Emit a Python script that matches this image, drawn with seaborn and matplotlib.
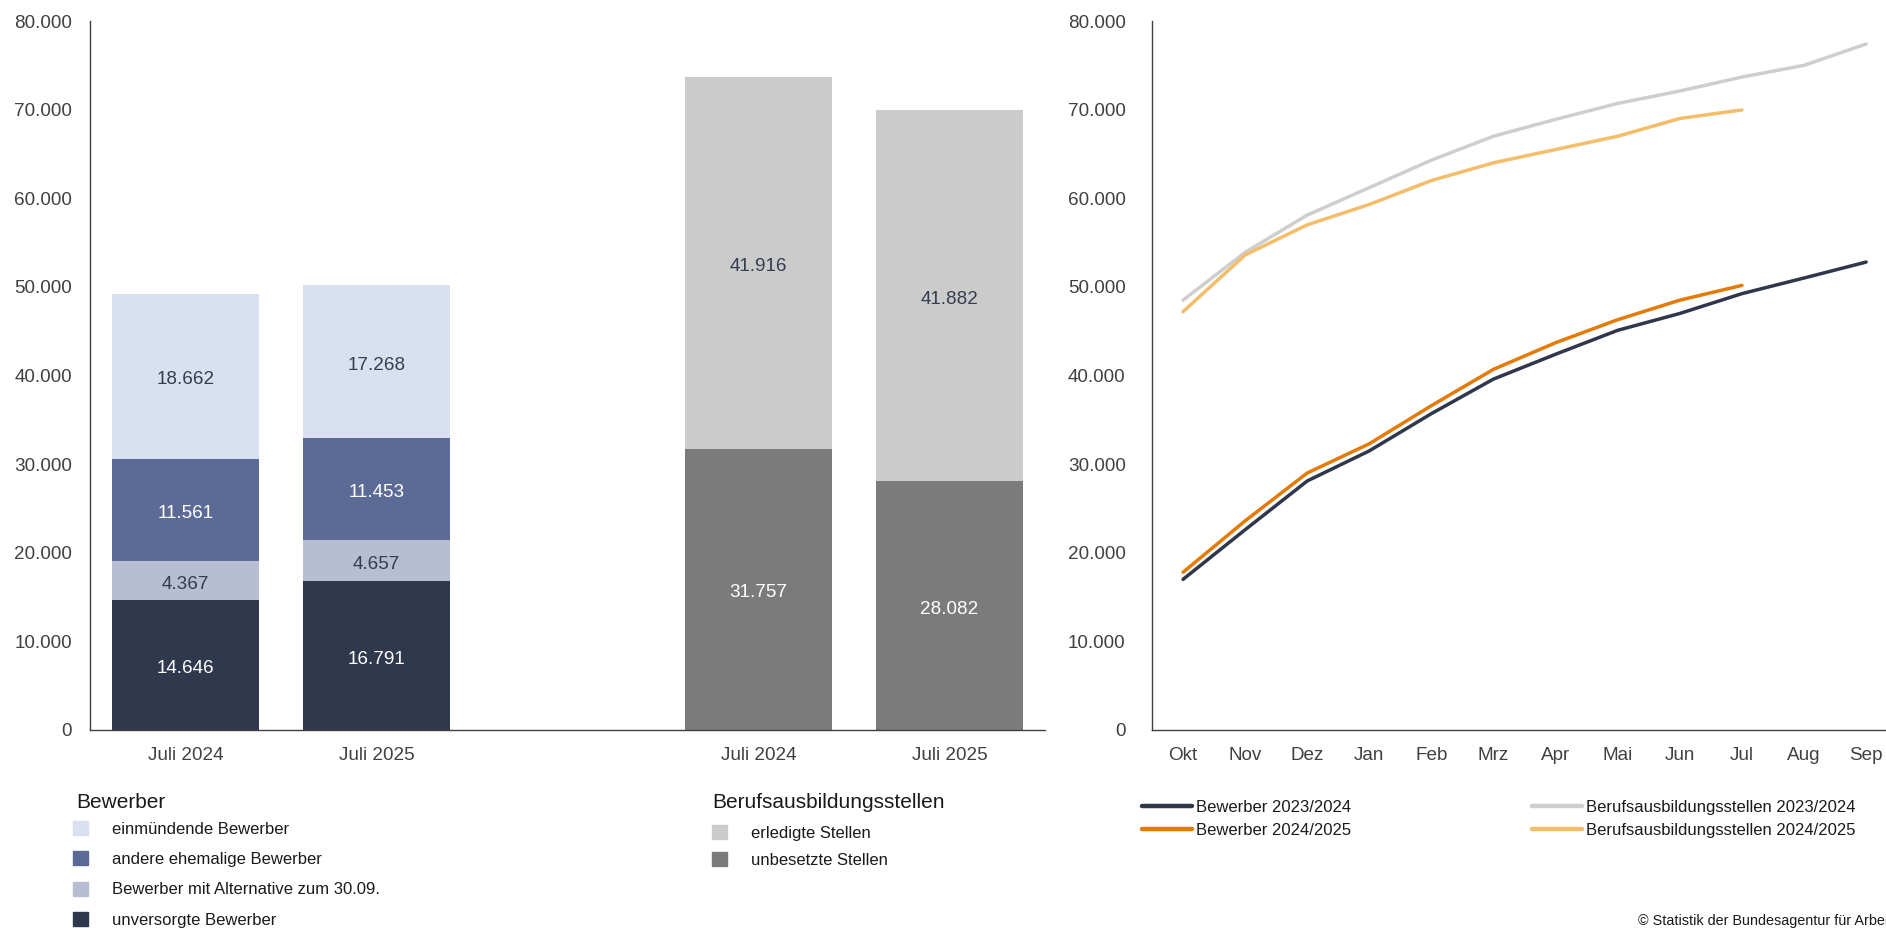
import numpy as np
import pandas as pd
import matplotlib
matplotlib.use("Agg")
import matplotlib.pyplot as plt
import seaborn as sns
from matplotlib.patches import Patch
from matplotlib.lines import Line2D
from matplotlib.ticker import FuncFormatter, MultipleLocator

# ---------------- data ----------------
bar_labels = ["Juli 2024", "Juli 2025"]
unversorgt = [14646, 16791]
alternative = [4367, 4657]
andere = [11561, 11453]
einmuendende = [18662, 17268]
unbesetzt = [31757, 28082]
erledigt = [41916, 41882]

months = ["Okt", "Nov", "Dez", "Jan", "Feb", "Mrz", "Apr", "Mai", "Jun", "Jul", "Aug", "Sep"]
bew_2324 = [17000, 22600, 28100, 31500, 35700, 39600, 42400, 45100, 47000, 49236, 51000, 52800]
bew_2425 = [17800, 23600, 29000, 32300, 36600, 40700, 43700, 46300, 48500, 50169]
stellen_2324 = [48500, 53900, 58100, 61200, 64300, 67000, 68900, 70700, 72100, 73673, 75000, 77400]
stellen_2425 = [47200, 53600, 57000, 59300, 62000, 64000, 65500, 67000, 69000, 69964]

# ---------------- style ----------------
sns.set_theme(style="white")
plt.rcParams["font.family"] = ["Liberation Sans", "DejaVu Sans"]
plt.rcParams["lines.solid_capstyle"] = "round"

C_EIN = "#d9e0f0"
C_AND = "#5c6b95"
C_ALT = "#b8bed1"
C_UNV = "#30384d"
C_ERL = "#cbcbcb"
C_UNB = "#7b7b7b"
C_L1 = "#2f374c"
C_L2 = "#e47b06"
C_L3 = "#cecece"
C_L4 = "#f4bd6a"
TXT = "#404040"
LBL_DARK = "#353d4f"
LEG_TXT = "#1a1a1a"

W, H = 1886, 932
fig = plt.figure(figsize=(W / 100, H / 100), dpi=100)
ax1 = fig.add_axes([90 / W, (H - 730) / H, (1045 - 90) / W, (730 - 21) / H])
ax2 = fig.add_axes([1152 / W, (H - 730) / H, (1886 - 1152) / W, (730 - 21) / H])

fmt = FuncFormatter(lambda v, p: f"{int(round(v)):,}".replace(",", "."))

# ---------------- stacked bars ----------------
pos_a = [0, 1]
pos_b = [3, 4]

layers_a = [
    (einmuendende, C_EIN, LBL_DARK),
    (andere, C_AND, "white"),
    (alternative, C_ALT, LBL_DARK),
    (unversorgt, C_UNV, "white"),
]
layers_b = [
    (erledigt, C_ERL, LBL_DARK),
    (unbesetzt, C_UNB, "white"),
]


def draw_stack(pos, layers):
    # layers listed top -> bottom
    cum = np.zeros(len(pos))
    segs = []
    for vals, col, tc in reversed(layers):
        lo = cum.copy()
        cum = cum + np.array(vals)
        segs.append((lo, cum.copy(), vals, col, tc))
    # draw tallest cumulative first, smaller ones on top
    for lo, hi, vals, col, tc in reversed(segs):
        df = pd.DataFrame({"x": pos, "y": hi})
        sns.barplot(data=df, x="x", y="y", color=col, native_scale=True,
                    width=0.77, saturation=1, errorbar=None, ax=ax1,
                    linewidth=0, edgecolor=col)
    for lo, hi, vals, col, tc in segs:
        for xp, l, h_, v in zip(pos, lo, hi, vals):
            ax1.annotate(f"{v:,}".replace(",", "."), xy=(xp, (l + h_) / 2),
                         xytext=(0, -2.6), textcoords="offset points",
                         ha="center", va="center", fontsize=13.6, color=tc)


draw_stack(pos_a, layers_a)
draw_stack(pos_b, layers_b)

ax1.set_xlim(-0.5, 4.5)
ax1.set_ylim(0, 80000)
ax1.set_xticks(pos_a + pos_b)
ax1.set_xticklabels(bar_labels + bar_labels)
ax1.yaxis.set_major_locator(MultipleLocator(10000))
ax1.yaxis.set_major_formatter(fmt)
ax1.set_xlabel("")
ax1.set_ylabel("")

# ---------------- lines ----------------
rows = []
for name, vals in [("Bewerber 2023/2024", bew_2324), ("Bewerber 2024/2025", bew_2425),
                   ("Berufsausbildungsstellen 2023/2024", stellen_2324),
                   ("Berufsausbildungsstellen 2024/2025", stellen_2425)]:
    for i, v in enumerate(vals):
        rows.append({"m": i, "v": v, "s": name})
ldf = pd.DataFrame(rows)
pal = {"Bewerber 2023/2024": C_L1, "Bewerber 2024/2025": C_L2,
       "Berufsausbildungsstellen 2023/2024": C_L3,
       "Berufsausbildungsstellen 2024/2025": C_L4}
order = ["Berufsausbildungsstellen 2023/2024", "Berufsausbildungsstellen 2024/2025",
         "Bewerber 2023/2024", "Bewerber 2024/2025"]
sns.lineplot(data=ldf, x="m", y="v", hue="s", hue_order=order, palette=pal,
             linewidth=2.5, legend=False, ax=ax2, sort=False)
ax2.set_xlim(-0.5, 11.32)
ax2.set_ylim(0, 80000)
ax2.set_xticks(range(len(months)))
ax2.set_xticklabels(months)
ax2.yaxis.set_major_locator(MultipleLocator(10000))
ax2.yaxis.set_major_formatter(fmt)
ax2.set_xlabel("")
ax2.set_ylabel("")

for ax in (ax1, ax2):
    for s in ("top", "right"):
        ax.spines[s].set_visible(False)
    for s in ("left", "bottom"):
        ax.spines[s].set_color(TXT)
        ax.spines[s].set_linewidth(1.0)
    ax.tick_params(axis="both", length=0, labelsize=13.6, colors=TXT)
    ax.tick_params(axis="y", pad=13)
    ax.tick_params(axis="x", pad=12)
    ax.grid(False)
ax2.tick_params(axis="y", pad=19)

# ---------------- legends ----------------
fig.text(76 / W, 1 - 802 / H, "Bewerber", fontsize=15, ha="left", va="center", color=LEG_TXT)
leg1 = fig.legend(
    handles=[Patch(color=C_EIN), Patch(color=C_AND), Patch(color=C_ALT), Patch(color=C_UNV)],
    labels=["einmündende Bewerber", "andere ehemalige Bewerber",
            "Bewerber mit Alternative zum 30.09.", "unversorgte Bewerber"],
    loc="upper left", bbox_to_anchor=(73 / W, 1 - 821 / H),
    frameon=False, fontsize=12, handlelength=0.9, handleheight=0.9,
    handletextpad=1.45, labelspacing=0.88, borderpad=0, borderaxespad=0)

fig.text(712 / W, 1 - 803 / H, "Berufsausbildungsstellen", fontsize=15, ha="left",
         va="center", color=LEG_TXT)
leg2 = fig.legend(
    handles=[Patch(color=C_ERL), Patch(color=C_UNB)],
    labels=["erledigte Stellen", "unbesetzte Stellen"],
    loc="upper left", bbox_to_anchor=(712 / W, 1 - 825 / H),
    frameon=False, fontsize=12, handlelength=0.9, handleheight=0.9,
    handletextpad=1.45, labelspacing=0.70, borderpad=0, borderaxespad=0)

leg3 = fig.legend(
    handles=[Line2D([], [], color=C_L1, lw=3.2), Line2D([], [], color=C_L2, lw=3.2)],
    labels=["Bewerber 2023/2024", "Bewerber 2024/2025"],
    loc="upper left", bbox_to_anchor=(1142 / W, 1 - 800 / H), frameon=False, fontsize=12,
    handlelength=3.0, handletextpad=0.25, labelspacing=0.47, borderpad=0, borderaxespad=0)

leg4 = fig.legend(
    handles=[Line2D([], [], color=C_L3, lw=3.2), Line2D([], [], color=C_L4, lw=3.2)],
    labels=["Berufsausbildungsstellen 2023/2024", "Berufsausbildungsstellen 2024/2025"],
    loc="upper left", bbox_to_anchor=(1532 / W, 1 - 800 / H), frameon=False, fontsize=12,
    handlelength=3.0, handletextpad=0.25, labelspacing=0.47, borderpad=0, borderaxespad=0)

for lg in (leg1, leg2, leg3, leg4):
    for t in lg.get_texts():
        t.set_color(LEG_TXT)

fig.text(1638 / W, 1 - 921 / H, "© Statistik der Bundesagentur für Arbeit",
         fontsize=10.4, ha="left", va="center", color=LEG_TXT)

fig.savefig("out.png", dpi=100)
